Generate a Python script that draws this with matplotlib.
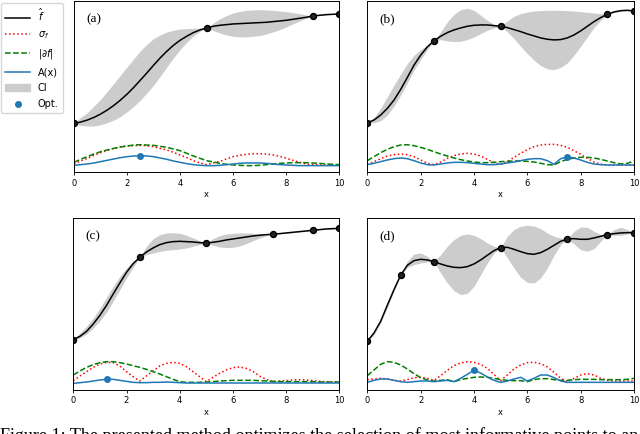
import numpy as np
import matplotlib.pyplot as plt
from matplotlib.lines import Line2D
from matplotlib.patches import Patch

# x grid of the readings
x = np.arange(0, 10.25, 0.25)

# panel (a)
mean_a = [1.47, 1.51, 1.57, 1.65, 1.75, 1.87, 2.01, 2.17, 2.35, 2.55, 2.77,
          2.99, 3.22, 3.44, 3.64, 3.82, 3.97, 4.09, 4.20, 4.28, 4.34,
          4.39, 4.42, 4.44, 4.46, 4.47, 4.48, 4.49, 4.50, 4.51, 4.53,
          4.55, 4.57, 4.60, 4.63, 4.66, 4.70, 4.72, 4.74, 4.75, 4.76]
upper_a = [1.47, 1.65, 1.79, 1.99, 2.19, 2.43, 2.67, 2.92, 3.17, 3.41, 3.65,
           3.85, 4.02, 4.13, 4.22, 4.27, 4.31, 4.32, 4.33, 4.335, 4.34,
           4.49, 4.62, 4.71, 4.79, 4.84, 4.87, 4.88, 4.89, 4.88, 4.87,
           4.85, 4.83, 4.80, 4.77, 4.73, 4.70, 4.73, 4.75, 4.755, 4.76]
lower_a = [1.47, 1.41, 1.39, 1.39, 1.43, 1.49, 1.57, 1.68, 1.82, 1.98, 2.17,
           2.39, 2.62, 2.89, 3.17, 3.44, 3.69, 3.91, 4.10, 4.24, 4.34,
           4.26, 4.19, 4.13, 4.09, 4.07, 4.07, 4.09, 4.11, 4.16, 4.22,
           4.29, 4.37, 4.46, 4.55, 4.63, 4.70, 4.71, 4.73, 4.75, 4.76]
grad_a = [0.30, 0.39, 0.47, 0.55, 0.62, 0.67, 0.72, 0.76, 0.79, 0.82, 0.83,
          0.82, 0.81, 0.78, 0.75, 0.70, 0.65, 0.57, 0.49, 0.42, 0.35,
          0.31, 0.27, 0.24, 0.22, 0.21, 0.20, 0.20, 0.21, 0.23, 0.25,
          0.27, 0.28, 0.29, 0.29, 0.29, 0.28, 0.27, 0.25, 0.24, 0.23]
sigma_a = [0.25, 0.34, 0.42, 0.51, 0.59, 0.66, 0.72, 0.76, 0.79, 0.80, 0.81,
           0.80, 0.77, 0.72, 0.67, 0.60, 0.52, 0.44, 0.35, 0.28, 0.23,
           0.28, 0.33, 0.40, 0.47, 0.51, 0.54, 0.56, 0.56, 0.55, 0.52,
           0.48, 0.42, 0.36, 0.30, 0.25, 0.23, 0.22, 0.22, 0.22, 0.22]
acq_a = [0.21, 0.23, 0.25, 0.28, 0.32, 0.36, 0.40, 0.44, 0.47, 0.49, 0.50,
         0.49, 0.47, 0.43, 0.39, 0.34, 0.30, 0.26, 0.23, 0.21, 0.20,
         0.20, 0.21, 0.23, 0.25, 0.27, 0.28, 0.28, 0.28, 0.27, 0.25,
         0.23, 0.22, 0.21, 0.20, 0.20, 0.20, 0.20, 0.20, 0.20, 0.20]
obs_x_a = [0, 5, 9, 10]
obs_y_a = [1.47, 4.34, 4.70, 4.76]
opt_a = (2.5, 0.50)

# panel (b)
mean_b = [1.49, 1.57, 1.72, 1.92, 2.17, 2.49, 2.85, 3.22, 3.52, 3.77, 3.95,
          4.09, 4.20, 4.28, 4.34, 4.39, 4.42, 4.43, 4.43, 4.41, 4.39,
          4.35, 4.29, 4.23, 4.16, 4.10, 4.04, 4.00, 3.98, 3.99, 4.04,
          4.13, 4.25, 4.39, 4.53, 4.65, 4.75, 4.82, 4.86, 4.87, 4.85]
upper_b = [1.49, 1.65, 1.92, 2.27, 2.62, 2.95, 3.27, 3.52, 3.69, 3.82, 3.95,
           4.22, 4.52, 4.75, 4.89, 4.93, 4.87, 4.72, 4.57, 4.45, 4.39,
           4.55, 4.69, 4.77, 4.82, 4.85, 4.86, 4.87, 4.87, 4.87, 4.86,
           4.85, 4.83, 4.81, 4.79, 4.77, 4.75, 4.84, 4.88, 4.88, 4.85]
lower_b = [1.49, 1.49, 1.55, 1.72, 1.99, 2.32, 2.69, 3.07, 3.39, 3.69, 3.95,
           3.99, 3.95, 3.93, 3.94, 3.99, 4.07, 4.17, 4.27, 4.34, 4.39,
           4.22, 4.02, 3.79, 3.57, 3.37, 3.21, 3.11, 3.09, 3.15, 3.29,
           3.52, 3.79, 4.07, 4.35, 4.57, 4.75, 4.80, 4.84, 4.86, 4.85]
grad_b = [0.35, 0.47, 0.59, 0.69, 0.77, 0.82, 0.83, 0.80, 0.75, 0.69, 0.62,
          0.55, 0.49, 0.43, 0.38, 0.34, 0.31, 0.29, 0.29, 0.30, 0.32,
          0.33, 0.34, 0.34, 0.33, 0.31, 0.27, 0.23, 0.22, 0.32, 0.39,
          0.43, 0.45, 0.45, 0.43, 0.39, 0.34, 0.29, 0.25, 0.27, 0.34]
sigma_b = [0.23, 0.32, 0.41, 0.49, 0.53, 0.55, 0.53, 0.47, 0.37, 0.27, 0.23,
           0.31, 0.42, 0.50, 0.55, 0.57, 0.55, 0.49, 0.39, 0.29, 0.24,
           0.32, 0.45, 0.57, 0.68, 0.77, 0.82, 0.84, 0.84, 0.81, 0.75,
           0.65, 0.54, 0.42, 0.31, 0.24, 0.22, 0.22, 0.22, 0.22, 0.22]
acq_b = [0.23, 0.27, 0.32, 0.37, 0.41, 0.43, 0.41, 0.35, 0.28, 0.23, 0.22,
         0.25, 0.28, 0.30, 0.30, 0.29, 0.27, 0.25, 0.23, 0.23, 0.25,
         0.28, 0.31, 0.35, 0.39, 0.41, 0.41, 0.35, 0.24, 0.41, 0.46,
         0.43, 0.37, 0.30, 0.25, 0.23, 0.22, 0.22, 0.22, 0.22, 0.22]
obs_x_b = [0, 2.5, 5, 9, 10]
obs_y_b = [1.49, 3.95, 4.39, 4.75, 4.85]
opt_b = (7.5, 0.46)

# panel (c)
mean_c = [1.51, 1.61, 1.76, 1.98, 2.24, 2.54, 2.88, 3.21, 3.53, 3.79, 3.98,
          4.14, 4.26, 4.36, 4.42, 4.45, 4.46, 4.45, 4.44, 4.42, 4.41,
          4.43, 4.46, 4.50, 4.53, 4.56, 4.59, 4.62, 4.64, 4.66, 4.67,
          4.69, 4.71, 4.73, 4.75, 4.77, 4.79, 4.81, 4.83, 4.84, 4.85]
upper_c = [1.51, 1.71, 1.91, 2.16, 2.46, 2.78, 3.11, 3.41, 3.66, 3.86, 3.98,
           4.31, 4.54, 4.66, 4.71, 4.72, 4.70, 4.64, 4.56, 4.48, 4.41,
           4.54, 4.63, 4.68, 4.70, 4.71, 4.71, 4.70, 4.69, 4.68, 4.67,
           4.70, 4.72, 4.74, 4.76, 4.78, 4.79, 4.82, 4.84, 4.85, 4.85]
lower_c = [1.51, 1.56, 1.68, 1.86, 2.08, 2.34, 2.66, 3.01, 3.36, 3.68, 3.98,
           4.06, 4.11, 4.16, 4.19, 4.21, 4.23, 4.26, 4.31, 4.36, 4.41,
           4.34, 4.29, 4.27, 4.28, 4.32, 4.39, 4.48, 4.56, 4.63, 4.67,
           4.68, 4.70, 4.72, 4.74, 4.76, 4.79, 4.80, 4.82, 4.83, 4.85]
grad_c = [0.45, 0.57, 0.68, 0.76, 0.82, 0.85, 0.85, 0.82, 0.78, 0.73, 0.68,
          0.62, 0.55, 0.48, 0.40, 0.32, 0.25, 0.23, 0.23, 0.23, 0.24,
          0.25, 0.27, 0.28, 0.29, 0.29, 0.29, 0.29, 0.28, 0.27, 0.26,
          0.25, 0.25, 0.25, 0.25, 0.25, 0.25, 0.24, 0.24, 0.24, 0.24]
sigma_c = [0.28, 0.42, 0.55, 0.68, 0.78, 0.83, 0.82, 0.72, 0.55, 0.40, 0.27,
           0.42, 0.57, 0.72, 0.80, 0.83, 0.80, 0.70, 0.55, 0.40, 0.25,
           0.38, 0.50, 0.60, 0.67, 0.69, 0.65, 0.56, 0.42, 0.32, 0.25,
           0.27, 0.28, 0.30, 0.31, 0.30, 0.28, 0.26, 0.25, 0.24, 0.24]
acq_c = [0.20, 0.22, 0.24, 0.27, 0.30, 0.32, 0.32, 0.29, 0.26, 0.23, 0.22,
         0.22, 0.23, 0.23, 0.24, 0.23, 0.22, 0.21, 0.21, 0.21, 0.21,
         0.21, 0.21, 0.21, 0.21, 0.21, 0.21, 0.21, 0.21, 0.21, 0.21,
         0.21, 0.21, 0.21, 0.21, 0.21, 0.21, 0.21, 0.21, 0.21, 0.21]
obs_x_c = [0, 2.5, 5, 7.5, 9, 10]
obs_y_c = [1.51, 3.98, 4.41, 4.67, 4.79, 4.85]
opt_c = (1.25, 0.32)

# panel (d)
mean_d = [1.46, 1.71, 2.06, 2.54, 3.01, 3.44, 3.74, 3.88, 3.92, 3.90, 3.85,
          3.78, 3.72, 3.68, 3.67, 3.70, 3.78, 3.90, 4.04, 4.18, 4.27,
          4.28, 4.22, 4.15, 4.09, 4.07, 4.12, 4.22, 4.34, 4.46, 4.53,
          4.54, 4.52, 4.52, 4.56, 4.61, 4.66, 4.69, 4.71, 4.72, 4.72]
upper_d = [1.46, 1.74, 2.11, 2.61, 3.08, 3.44, 3.86, 4.08, 4.11, 4.01, 3.85,
           4.06, 4.31, 4.51, 4.64, 4.68, 4.64, 4.54, 4.41, 4.31, 4.27,
           4.61, 4.81, 4.91, 4.94, 4.92, 4.84, 4.71, 4.61, 4.56, 4.53,
           4.76, 4.89, 4.88, 4.76, 4.66, 4.66, 4.81, 4.88, 4.81, 4.72]
lower_d = [1.46, 1.66, 2.01, 2.48, 2.96, 3.44, 3.68, 3.76, 3.81, 3.84, 3.85,
           3.51, 3.21, 2.98, 2.86, 2.90, 3.11, 3.46, 3.81, 4.11, 4.27,
           3.96, 3.66, 3.38, 3.23, 3.21, 3.36, 3.66, 4.04, 4.36, 4.53,
           4.38, 4.21, 4.16, 4.24, 4.46, 4.66, 4.64, 4.64, 4.68, 4.72]
grad_d = [0.43, 0.60, 0.77, 0.85, 0.83, 0.75, 0.63, 0.49, 0.37, 0.30, 0.27,
          0.29, 0.31, 0.25, 0.31, 0.35, 0.38, 0.39, 0.38, 0.35, 0.31,
          0.29, 0.28, 0.28, 0.25, 0.31, 0.34, 0.34, 0.31, 0.29, 0.29,
          0.31, 0.32, 0.32, 0.32, 0.31, 0.31, 0.31, 0.31, 0.32, 0.35]
sigma_d = [0.31, 0.33, 0.35, 0.33, 0.29, 0.27, 0.31, 0.37, 0.38, 0.35, 0.29,
           0.43, 0.59, 0.73, 0.81, 0.85, 0.83, 0.77, 0.65, 0.47, 0.28,
           0.45, 0.63, 0.75, 0.82, 0.83, 0.79, 0.69, 0.53, 0.35, 0.25,
           0.35, 0.45, 0.49, 0.45, 0.35, 0.29, 0.27, 0.27, 0.27, 0.27]
acq_d = [0.23, 0.29, 0.33, 0.33, 0.29, 0.25, 0.23, 0.25, 0.27, 0.27, 0.25,
         0.27, 0.29, 0.25, 0.35, 0.47, 0.59, 0.51, 0.39, 0.29, 0.23,
         0.27, 0.33, 0.38, 0.27, 0.35, 0.45, 0.45, 0.37, 0.27, 0.23,
         0.23, 0.23, 0.23, 0.23, 0.23, 0.23, 0.23, 0.23, 0.23, 0.23]
obs_x_d = [0, 1.25, 2.5, 5, 7.5, 9, 10]
obs_y_d = [1.46, 3.44, 3.85, 4.27, 4.53, 4.66, 4.72]
opt_d = (4.0, 0.59)

panel_labels = ['(a)', '(b)', '(c)', '(d)']
legend_labels = [r'$\hat{f}$', r'$\sigma_f$', r'$|\partial f|$', 'A(x)', 'CI', 'Opt.']
caption = ('Figure 1: The presented method optimizes the selection of most '
           'informative points to an')

blue = '#1f77b4'
grey = '#cccccc'

fig = plt.figure(figsize=(6.4, 4.34), dpi=100)

# axes boxes in figure pixels: left, top, right, bottom
boxes = [(74, 1, 339.3, 172.3), (367.3, 1, 634, 172.3),
         (73.3, 218.3, 339.3, 390), (367.3, 218.3, 634, 390)]
panels = [
    (mean_a, upper_a, lower_a, grad_a, sigma_a, acq_a, obs_x_a, obs_y_a, opt_a),
    (mean_b, upper_b, lower_b, grad_b, sigma_b, acq_b, obs_x_b, obs_y_b, opt_b),
    (mean_c, upper_c, lower_c, grad_c, sigma_c, acq_c, obs_x_c, obs_y_c, opt_c),
    (mean_d, upper_d, lower_d, grad_d, sigma_d, acq_d, obs_x_d, obs_y_d, opt_d),
]

for box, data, label in zip(boxes, panels, panel_labels):
    l, t, r, b = box
    ax = fig.add_axes([l / 640, 1 - b / 434, (r - l) / 640, (b - t) / 434])
    mean, upper, lower, grad, sigma, acq, ox, oy, opt = data
    ax.fill_between(x, lower, upper, color=grey, lw=0)
    ax.plot(x, mean, color='k', lw=1.1)
    ax.plot(ox, oy, 'o', color='#222222', mec='k', ms=4.3)
    ax.plot(x, sigma, ':', color='red', lw=1.1)
    ax.plot(x, grad, '--', color='green', lw=1.1)
    ax.plot(x, acq, '-', color=blue, lw=1.1)
    ax.plot(*opt, 'o', color=blue, ms=4)
    ax.set_xlim(0, 10)
    ax.set_ylim(0, 5.15)
    ax.set_yticks([])
    ax.set_xticks([0, 2, 4, 6, 8, 10])
    ax.tick_params(axis='x', labelsize=6, length=2.5, width=0.6, pad=2)
    ax.set_xlabel('x', fontsize=6, labelpad=2)
    for s in ax.spines.values():
        s.set_linewidth(0.7)
    ax.text(0.045, 0.895, label, transform=ax.transAxes, fontsize=9.5,
            family='Liberation Serif', va='center')

handles = [
    Line2D([], [], color='k', lw=1.1),
    Line2D([], [], color='red', ls=':', lw=1.1),
    Line2D([], [], color='green', ls='--', lw=1.1),
    Line2D([], [], color=blue, lw=1.1),
    Patch(color=grey),
    Line2D([], [], marker='o', color=blue, ls='', ms=4),
]
fig.legend(handles, legend_labels, loc='upper left', bbox_to_anchor=(0.0, 0.995),
           fontsize=7, handlelength=2.6, borderaxespad=0.1, labelspacing=0.62,
           handletextpad=0.8, borderpad=0.4)

# caption runs off the bottom edge, as in the source figure
fig.text(0.0, 1 - 441 / 434, caption, fontsize=13.1, family='Liberation Serif',
         va='baseline', ha='left')

fig.savefig('out.png', dpi=100)
